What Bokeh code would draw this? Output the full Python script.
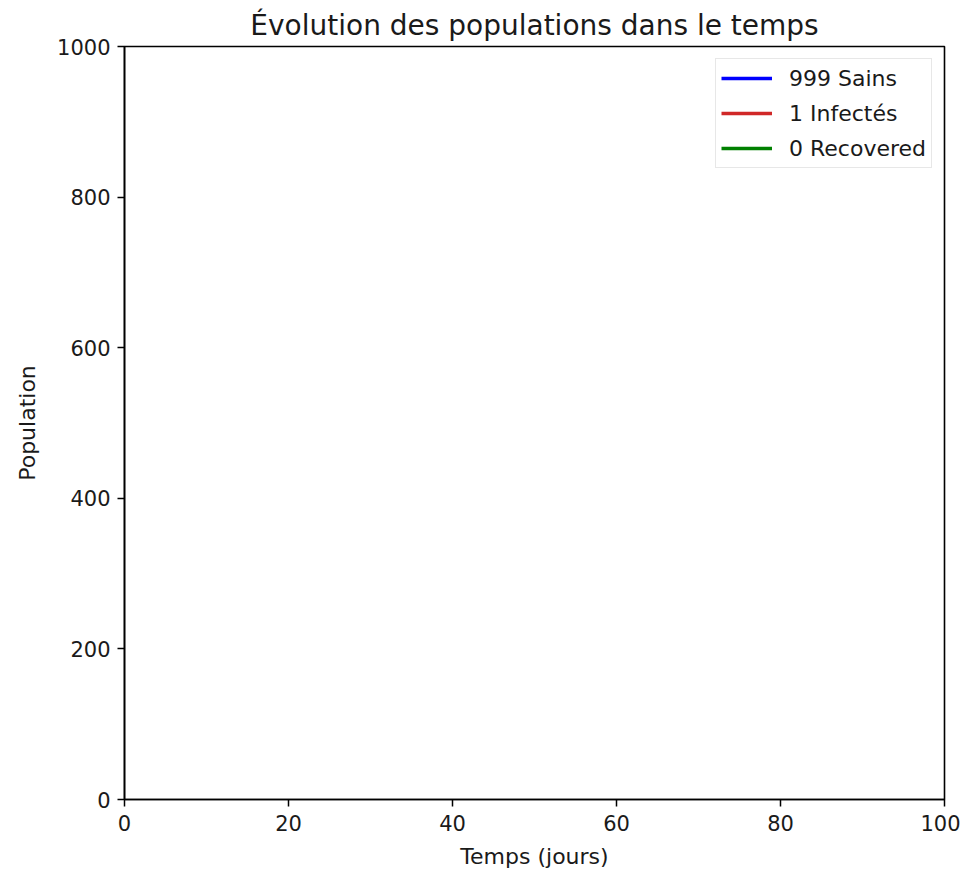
from bokeh.plotting import figure
from bokeh.models import Range1d, FixedTicker, Legend, LegendItem, ColumnDataSource
from bokeh.embed import file_html
from bokeh.resources import INLINE

# Data (only the initial state, t = 0)
temps = [0]
sains = [999]
infectes = [1]
recovered = [0]

x_ticks = [0, 20, 40, 60, 80, 100]
y_ticks = [0, 200, 400, 600, 800, 1000]

series_labels = ["999 Sains", "1 Infectés", "0 Recovered"]
series_colors = ["#0000ff", "#d02828", "#008000"]

W, H = 960, 873
p = figure(width=W, height=H, output_backend="svg", toolbar_location=None,
           x_range=Range1d(0, 100), y_range=Range1d(0, 1000),
           min_border_left=124, min_border_right=W - 944,
           min_border_top=46, min_border_bottom=H - 799)

p.title.text = "Évolution des populations dans le temps"
p.title.align = "center"
p.title.text_font = "DejaVu Sans"
p.title.text_font_size = "28px"
p.title.text_font_style = "normal"
p.title.text_color = "#1a1a1a"
p.title.standoff = 10

p.xgrid.visible = False
p.ygrid.visible = False
p.outline_line_color = "black"
p.outline_line_width = 1.6
p.outline_line_alpha = 1
p.background_fill_color = "white"
p.border_fill_color = "white"

for ax, ticks in ((p.xaxis[0], x_ticks), (p.yaxis[0], y_ticks)):
    ax.ticker = FixedTicker(ticks=ticks)
    ax.minor_tick_line_color = None
    ax.major_tick_in = 0
    ax.major_tick_out = 7
    ax.major_tick_line_color = "black"
    ax.major_tick_line_width = 1.5
    ax.axis_line_color = "black"
    ax.axis_line_width = 1.6
    ax.major_label_text_font = "DejaVu Sans"
    ax.major_label_text_font_size = "21px"
    ax.major_label_text_color = "#1a1a1a"
    ax.axis_label_text_font = "DejaVu Sans"
    ax.axis_label_text_font_size = "22px"
    ax.axis_label_text_font_style = "normal"
    ax.axis_label_text_color = "#1a1a1a"

p.xaxis.axis_label = "Temps (jours)"
p.yaxis.axis_label = "Population"
p.xaxis.major_label_standoff = 8
p.yaxis.major_label_standoff = 7
p.xaxis.axis_label_standoff = 10
p.yaxis.axis_label_standoff = 14

src = ColumnDataSource(dict(t=temps, s=sains, i=infectes, r=recovered))
r1 = p.line("t", "s", source=src, line_color=series_colors[0], line_width=3.3)
r2 = p.line("t", "i", source=src, line_color=series_colors[1], line_width=3.3)
r3 = p.line("t", "r", source=src, line_color=series_colors[2], line_width=3.3)

legend = Legend(items=[LegendItem(label=series_labels[0], renderers=[r1]),
                       LegendItem(label=series_labels[1], renderers=[r2]),
                       LegendItem(label=series_labels[2], renderers=[r3])],
                location="top_right")
legend.margin = 12
legend.padding = 5
legend.spacing = 7
legend.glyph_width = 51
legend.glyph_height = 28
legend.label_height = 28
legend.label_standoff = 17
legend.label_text_font = "DejaVu Sans"
legend.label_text_font_size = "22px"
legend.label_text_color = "#1a1a1a"
legend.border_line_color = "#d0d0d0"
legend.border_line_width = 1.2
legend.background_fill_alpha = 0.8
p.add_layout(legend)

open("out.html", "w").write(file_html(p, INLINE))
